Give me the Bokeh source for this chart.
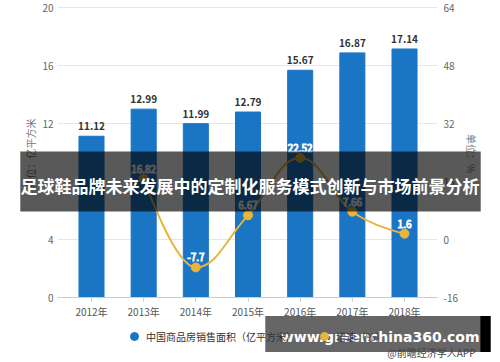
from bokeh.plotting import figure
from bokeh.models import Range1d, LinearAxis, FixedTicker, Label, Legend, LegendItem
from bokeh.core.properties import value
from bokeh.embed import file_html
from bokeh.resources import INLINE
import math

# ---- data ----
years = ["2012年", "2013年", "2014年", "2015年", "2016年", "2017年", "2018年"]
area = [11.12, 12.99, 11.99, 12.79, 15.67, 16.87, 17.14]
growth_years = ["2013年", "2014年", "2015年", "2016年", "2017年", "2018年"]
growth = [16.82, -7.7, 6.67, 22.52, 7.66, 1.6]
left_ticks = [0, 4, 8, 12, 16, 20]
right_ticks = [-16, 0, 16, 32, 48, 64]
title_text = "足球鞋品牌未来发展中的定制化服务模式创新与市场前景分析"
legend_labels = ["中国商品房销售面积（亿平方米）", "增速（%）"]
left_title = "单位：亿平方米"
right_title = "单位：%"
source_text = "@前瞻经济学人APP"
site_text = "www.greenchina360.com"

FONT = "Noto Sans CJK SC"
BLUE = "#1a75c5"
GOLD = "#e8b43c"
W, H = 500, 362

xs = list(range(len(years)))
gx = [years.index(y) for y in growth_years]

# plotting area geometry (pixels) -> ranges
X0_PX, DX_PX = 91.0, 52.17          # pixel of first category, pixels per category
Y0_PX, DY_PX = 297.0, 14.5          # pixel of value 0 (left axis), pixels per unit
R0_PX, DR_PX = 239.0, 3.625         # pixel of 0 % (right axis), pixels per unit
x_lo = -X0_PX / DX_PX
x_hi = x_lo + W / DX_PX
AX_L = (57 - X0_PX) / DX_PX
AX_R = (437 - X0_PX) / DX_PX

p = figure(width=W, height=H, output_backend="svg", toolbar_location=None,
           x_range=Range1d(x_lo, x_hi),
           y_range=Range1d(-(H - Y0_PX) / DY_PX, Y0_PX / DY_PX),
           min_border=0, min_border_left=0, min_border_right=0,
           min_border_top=0, min_border_bottom=0)
p.extra_y_ranges = {"pct": Range1d(-(H - R0_PX) / DR_PX, R0_PX / DR_PX)}
p.outline_line_color = None
p.xgrid.visible = False
p.ygrid.visible = False

# horizontal grid lines at the left-axis ticks
p.segment(x0=[AX_L] * len(left_ticks), x1=[AX_R] * len(left_ticks),
          y0=left_ticks, y1=left_ticks, line_color="#e6e6e6", line_width=1)

# bars
p.vbar(x=xs, top=area, width=0.48, color=BLUE)
p.text(x=xs, y=area, text=[f"{a:.2f}" for a in area], y_offset=-10,
       text_align="center", text_baseline="middle", text_font=value(FONT),
       text_font_size="10px", text_font_style="bold", text_color="#333333")

# spline line (Highcharts-like control points computed from the data)
def spline_controls(xv, yv, smoothing=1.5):
    n = len(xv)
    lc = [(xv[i], yv[i]) for i in range(n)]
    rc = [(xv[i], yv[i]) for i in range(n)]
    d = smoothing + 1
    for i in range(1, n - 1):
        px, py = xv[i], yv[i]
        lx, ly = xv[i - 1], yv[i - 1]
        nx, ny = xv[i + 1], yv[i + 1]
        lcx = (smoothing * px + lx) / d
        lcy = (smoothing * py + ly) / d
        rcx = (smoothing * px + nx) / d
        rcy = (smoothing * py + ny) / d
        corr = ((rcy - lcy) * (rcx - px)) / (rcx - lcx) + py - rcy
        lcy += corr
        rcy += corr
        if lcy > ly and lcy > py:
            lcy = max(ly, py); rcy = 2 * py - lcy
        elif lcy < ly and lcy < py:
            lcy = min(ly, py); rcy = 2 * py - lcy
        if rcy > ny and rcy > py:
            rcy = max(ny, py); lcy = 2 * py - rcy
        elif rcy < ny and rcy < py:
            rcy = min(ny, py); lcy = 2 * py - rcy
        lc[i] = (lcx, lcy)
        rc[i] = (rcx, rcy)
    return lc, rc

lc, rc = spline_controls(gx, growth)
n = len(gx)
p.bezier(x0=gx[:-1], y0=growth[:-1], x1=gx[1:], y1=growth[1:],
         cx0=[rc[i][0] for i in range(n - 1)], cy0=[rc[i][1] for i in range(n - 1)],
         cx1=[lc[i + 1][0] for i in range(n - 1)], cy1=[lc[i + 1][1] for i in range(n - 1)],
         line_color=GOLD, line_width=2, y_range_name="pct")
pts = p.scatter(x=gx, y=growth, size=9, color=GOLD, y_range_name="pct")
p.text(x=gx, y=growth, text=[str(g) for g in growth], y_offset=-10, y_range_name="pct",
       text_align="center", text_baseline="middle", text_font=value(FONT),
       text_font_size="10px", text_color="#444444", text_outline_color="white")

# axes
xa = p.xaxis[0]
xa.fixed_location = 0
xa.bounds = (AX_L, AX_R)
xa.ticker = FixedTicker(ticks=xs)
xa.major_label_overrides = {i: years[i] for i in xs}
xa.axis_line_color = "#cccccc"
xa.major_tick_line_color = "#cccccc"
xa.major_tick_out = 4
xa.major_tick_in = 0
xa.minor_tick_line_color = None
xa.major_label_standoff = 2
xa.major_label_text_font = FONT
xa.major_label_text_font_size = "10px"
xa.major_label_text_color = "#555555"

ya = p.yaxis[0]
ya.fixed_location = AX_L
ya.ticker = FixedTicker(ticks=left_ticks)
ya.axis_line_color = None
ya.major_tick_line_color = None
ya.major_tick_out = 0
ya.major_tick_in = 0
ya.minor_tick_line_color = None
ya.major_label_standoff = 4
ya.major_label_text_font = FONT
ya.major_label_text_font_size = "10px"
ya.major_label_text_color = "#666666"

ra = LinearAxis(y_range_name="pct", ticker=FixedTicker(ticks=right_ticks),
                major_label_overrides={t: str(t) for t in right_ticks})
ra.fixed_location = AX_R
ra.axis_line_color = None
ra.major_tick_line_color = None
ra.major_tick_out = 0
ra.major_tick_in = 0
ra.minor_tick_line_color = None
ra.major_label_standoff = 6
ra.major_label_text_font = FONT
ra.major_label_text_font_size = "10px"
ra.major_label_text_color = "#666666"
p.add_layout(ra, "right")

# axis titles
p.add_layout(Label(x=29.5, y=H - 153, x_units="screen", y_units="screen", text=left_title,
                   angle=math.pi / 2, text_align="center", text_baseline="middle",
                   text_font=FONT, text_font_size="10px", text_color="#777777"))
p.add_layout(Label(x=471, y=H - 153, x_units="screen", y_units="screen", text=right_title,
                   angle=-math.pi / 2, text_align="center", text_baseline="middle",
                   text_font=FONT, text_font_size="10px", text_color="#777777"))

# legend
leg_blue = p.scatter(x=[math.nan], y=[math.nan], size=9, color=BLUE)
legend = Legend(items=[LegendItem(label=legend_labels[0], renderers=[leg_blue]),
                       LegendItem(label=legend_labels[1], renderers=[pts])],
                orientation="horizontal", location=(124, 16),
                glyph_width=20, glyph_height=20, label_standoff=2, spacing=18,
                label_text_font=FONT, label_text_font_size="10px", label_text_color="#333333",
                border_line_color=None, background_fill_alpha=0, padding=0, margin=0)
p.add_layout(legend, "center")

# overlays (screen units from the bottom-left corner of the canvas)
NB = "\u00a0"
def band(cx, cy, fs, pl, pr, pt, pb, color, alpha):
    p.add_layout(Label(x=cx, y=H - cy, x_units="screen", y_units="screen", text=NB,
                       text_align="center", text_baseline="middle", text_font="DejaVu Sans",
                       text_font_size=fs, text_color=color,
                       background_fill_color=color, background_fill_alpha=alpha,
                       padding=dict(left=pl, right=pr, top=pt, bottom=pb)))

band(250, 181, "17px", 227, 228, 20, 20, "black", 0.65)          # title band 20..480
band(372.5, 333.5, "14px", 105, 106, 10, 10, "black", 0.6)       # site band 265..480
band(485, 333.5, "14px", 3, 3, 10, 10, "black", 1.0)             # black strip 480..490

p.add_layout(Label(x=249.5, y=H - 185, x_units="screen", y_units="screen", text=title_text,
                   text_align="center", text_baseline="middle", text_font=FONT,
                   text_font_size="17px", text_font_style="bold", text_color="white"))
p.add_layout(Label(x=479, y=H - 336, x_units="screen", y_units="screen", text=site_text,
                   text_align="right", text_baseline="middle", text_font="DejaVu Sans",
                   text_font_size="14px", text_font_style="bold", text_color="white"))
p.add_layout(Label(x=475, y=H - 352, x_units="screen", y_units="screen", text=source_text,
                   text_align="right", text_baseline="middle", text_font=FONT,
                   text_font_size="10px", text_color="#444444"))

open("out.html", "w").write(file_html(p, INLINE))
